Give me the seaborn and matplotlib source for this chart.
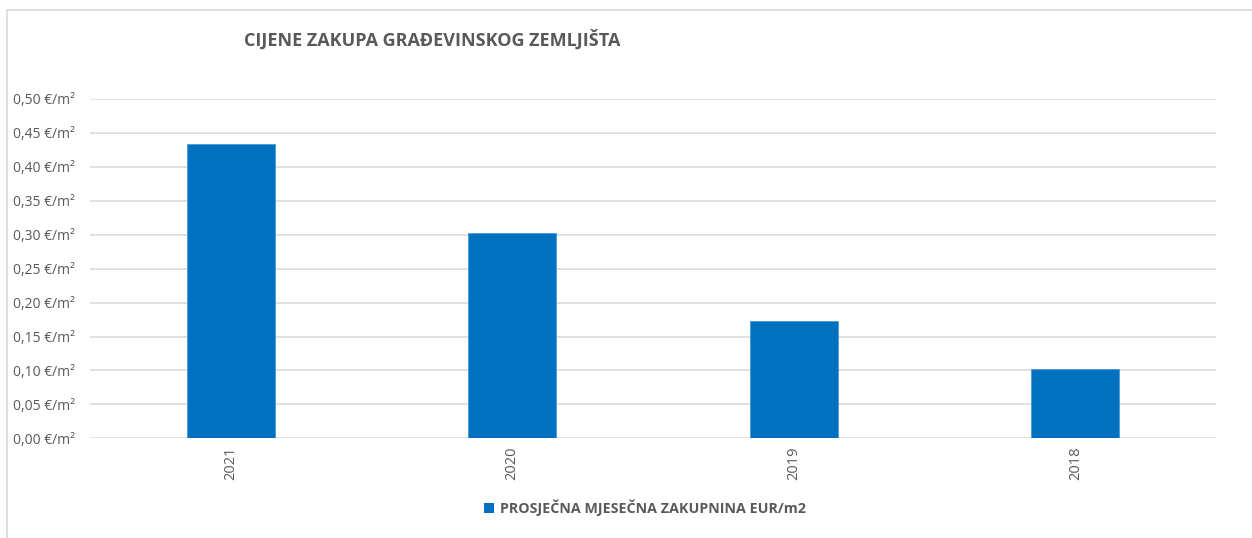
import matplotlib
matplotlib.use("Agg")
import matplotlib.pyplot as plt
from matplotlib.lines import Line2D
from matplotlib.ticker import FuncFormatter
import seaborn as sns
import pandas as pd

years = ["2021", "2020", "2019", "2018"]
values = [0.434, 0.303, 0.173, 0.102]
series_name = "PROSJEČNA MJESEČNA ZAKUPNINA EUR/m2"
title = "CIJENE ZAKUPA GRAĐEVINSKOG ZEMLJIŠTA"

sns.set_theme(style="white")
plt.rcParams['font.family'] = ['Open Sans', 'DejaVu Sans']

W, H = 1252, 538
fig = plt.figure(figsize=(W / 100, H / 100), dpi=100)
ax = fig.add_axes([90 / W, 1 - 438.3 / H, (1216 - 90) / W, (438.3 - 99) / H])

df = pd.DataFrame({"year": years, "value": values, "series": series_name})
sns.barplot(data=df, x="year", y="value", hue="series", order=years,
            palette=["#0070C0"], saturation=1, width=0.313, ax=ax, legend=False,
            edgecolor="#4A9AD8", linewidth=0.6, zorder=3)

ax.set_ylim(0, 0.5)
ax.set_yticks([i * 0.05 for i in range(11)])
ax.yaxis.set_major_formatter(FuncFormatter(lambda v, p: f"{v:.2f}".replace(".", ",") + " €/m²"))
ax.grid(axis="y", color="#D9D9D9", linewidth=1.1, zorder=0)
ax.set_axisbelow(True)
for s in ax.spines.values():
    s.set_visible(False)
ax.set_xlabel("")
ax.set_ylabel("")
ax.tick_params(axis="y", length=0, pad=11, labelsize=10, labelcolor="#595959")
ax.tick_params(axis="x", length=0, pad=6, labelsize=10.5, labelcolor="#595959", rotation=90)
for lbl in ax.get_yticklabels():
    lbl.set_horizontalalignment("right")

fig.text(432.5 / W, 1 - 40 / H, title, ha="center", va="center",
         fontsize=13, fontweight="bold", color="#595959")

handles = [plt.Rectangle((0, 0), 1, 1, facecolor="#0070C0", edgecolor="none")]
fig.legend(handles, [series_name], loc="center", bbox_to_anchor=(645 / W, 1 - 508 / H),
           frameon=False, handlelength=0.65, handleheight=0.65, handletextpad=0.4,
           prop={"size": 10.3, "weight": "bold"}, labelcolor="#595959")

fig.add_artist(Line2D([7 / W, 7 / W], [0, 1 - 10 / H], transform=fig.transFigure,
                      color="#D9D9D9", linewidth=1.2))
fig.add_artist(Line2D([7 / W, 1], [1 - 10 / H, 1 - 10 / H], transform=fig.transFigure,
                      color="#D9D9D9", linewidth=1.2))

fig.savefig("out.png", dpi=100, facecolor="white")
